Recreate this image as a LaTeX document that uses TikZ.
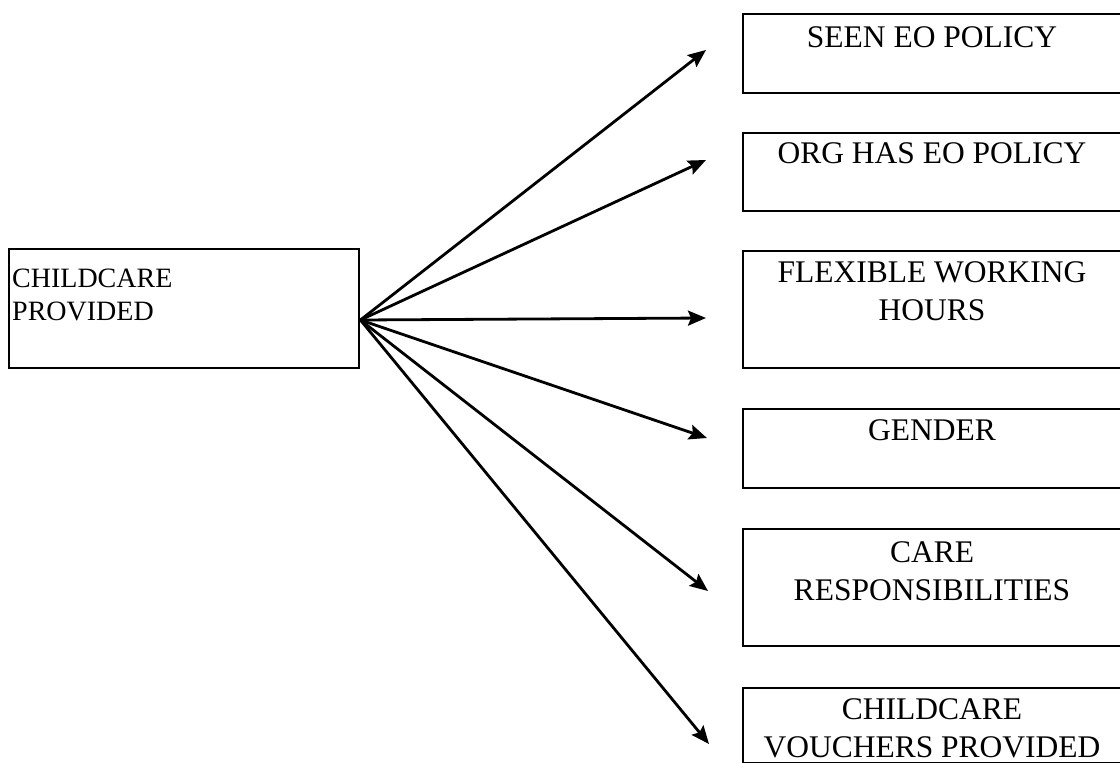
\documentclass[tikz,border=0pt]{standalone}
\usepackage{fontspec}
\setmainfont{Liberation Serif}
\usetikzlibrary{arrows.meta,calc}
\begin{document}
\begin{tikzpicture}[x=1pt,y=-1pt,
  box/.style={draw, line width=2.4pt, rectangle, inner sep=0pt, anchor=north west},
  ttl/.style={font=\fontsize{31.5}{38}\selectfont, align=center, anchor=base, inner sep=0pt},
  link/.style={line width=2.8pt, line cap=round, -{Stealth[length=18pt,width=15pt,inset=3pt]}}]
\useasboundingbox (0,0) rectangle (1120,763);
\clip (0,0) rectangle (1120,763);

% source box
\node[box, minimum width=350pt, minimum height=119pt] (src) at (8,248) {};
\node[anchor=base west, inner sep=0pt, align=left,
      font=\fontsize{28}{33}\selectfont] (srct) at (12,320) {CHILDCARE\\PROVIDED};
\coordinate (hub) at ($(src.north east)+(0,72)$);

% target boxes (they run past the right edge)
\node[box, minimum width=400pt, minimum height=79pt]  (b1) at (742,13)  {};
\node[box, minimum width=400pt, minimum height=78pt]  (b2) at (742,132) {};
\node[box, minimum width=400pt, minimum height=117pt] (b3) at (742,250) {};
\node[box, minimum width=400pt, minimum height=79pt]  (b4) at (742,408) {};
\node[box, minimum width=400pt, minimum height=117pt] (b5) at (742,528) {};
\node[box, minimum width=400pt, minimum height=75pt]  (b6) at (742,687) {};

% labels: a two-line label sits on the baseline of its last line
\node[ttl] (t1) at (932,47)  {SEEN EO POLICY};
\node[ttl] (t2) at (932,163) {ORG HAS EO POLICY};
\node[ttl] (t3) at (932,320) {FLEXIBLE WORKING\\HOURS};
\node[ttl] (t4) at (932,440) {GENDER};
\node[ttl] (t5) at (932,600) {CARE\\RESPONSIBILITIES};
\node[ttl] (t6) at (932,757) {CHILDCARE\\VOUCHERS PROVIDED};

% arrow end points in front of each box
\coordinate (e1) at (706,50);
\coordinate (e2) at (706,160);
\coordinate (e3) at (706,318);
\coordinate (e4) at (707,438);
\coordinate (e5) at (708,591);
\coordinate (e6) at (709,744);

\foreach \i in {1,...,6} \draw[link] (hub) -- (e\i);
\end{tikzpicture}
\end{document}
